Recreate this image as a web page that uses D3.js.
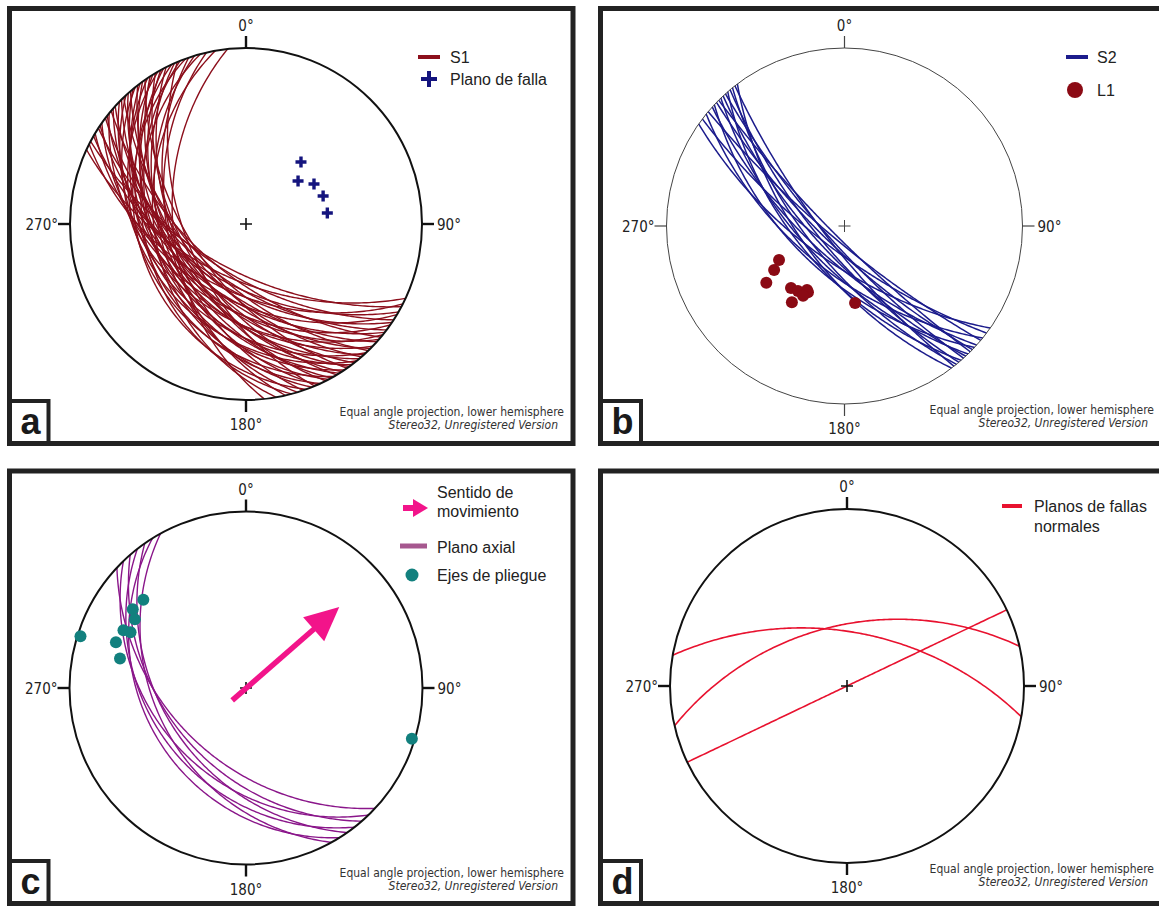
<!DOCTYPE html>
<html>
<head>
<meta charset="utf-8">
<script src="https://cdn.jsdelivr.net/npm/d3@7"></script>
<style>
  body { margin: 0; background: #fff; }
  svg { display: block; }
  text { font-family: "Liberation Sans", Arial, sans-serif; }
  .narrow { font-family: "Liberation Sans Narrow", "Arial Narrow", "DejaVu Sans Condensed", sans-serif; }
</style>
</head>
<body>
<svg id="chart" width="1159" height="906"></svg>
<script>
// ---- Data -------------------------------------------------------------
// Planes are [dip direction, dip]; lines are [trend, plunge], all in degrees.
const s1Planes = [
  [205,55],[207,48],[208,60],[210,52],[211,44],[213,58],[214,50],[215,40],[217,54],
  [218,46],[219,36],[220,58],[221,42],[222,50],[224,38],[225,47],[226,55],[227,33],
  [228,44],[229,52],[230,40],[231,30],[232,48],[233,36],[234,43],[235,55],[236,32],
  [237,45],[238,38],[239,50],[240,28],[241,42],[242,35],[243,47],[245,30],[246,40],
  [247,52],[248,34],[250,27],[251,44],[253,38],[255,30],[257,42],[260,35],[264,45]
];
const fallaPoles = [[41.6,39.6],[50.4,48],[59.5,41.7],[70,40],[82.3,40]];

const s2Planes = [
  [215,66],[217,74],[219,61],[220,80],[222,68],[223,59],[224,76],[225,82],
  [226,64],[227,71],[228,78],[229,61],[230,73],[231,67],[232,77],[233,63]
];
const l1Lineations = [
  [242.6,45],[238,40],[234,33],[220.8,40.6],[215.6,41.6],[210.4,44.8],
  [208.9,44],[210.7,41],[214.6,35],[172.2,42.8]
];

const axialPlanes = [[223,45],[226,36],[229,42],[232,33],[235,40],[238,30],[241,36]];
const foldAxes = [
  [287.4,1],[310.7,15],[304.8,14],[301.7,17],[295.2,15],[295.8,18],
  [289.4,14],[283.2,17.5],[107,1]
];
const movementArrow = [[228,78],[49,20]];   // tail, head

const normalFaultPlanes = [[10,56],[347,52],[334.5,90]];

const tickAzimuths = [0, 90, 180, 270];
const tickLabels = ["0°", "90°", "180°", "270°"];
const footerLines = ["Equal angle projection, lower hemisphere", "Stereo32, Unregistered Version"];
const panelLetters = ["a", "b", "c", "d"];
const legendA = ["S1", "Plano de falla"];
const legendB = ["S2", "L1"];
const legendC = [["Sentido de", "movimiento"], ["Plano axial"], ["Ejes de pliegue"]];
const legendD = [["Planos de fallas", "normales"]];

// ---- Colours ----------------------------------------------------------
const C = {
  frame: "#222",
  s1: "#8c0f1c", falla: "#14147e",
  s2: "#1c1c8c", l1: "#8b0a14",
  axial: "#8a168a", axialKey: "#a6588f", fold: "#12807e", arrow: "#f2148a",
  normal: "#e8122f"
};

// ---- Stereographic (equal angle, lower hemisphere) helpers ------------
const rad = Math.PI / 180;
function lineXY(trend, plunge) {
  const r = Math.tan((90 - plunge) / 2 * rad);
  return [r * Math.sin(trend * rad), r * Math.cos(trend * rad)];
}
function greatCircle(dd, dip) {
  const sAz = (dd - 90) * rad;
  const s = [Math.sin(sAz), Math.cos(sAz), 0];
  const d = [Math.sin(dd * rad) * Math.cos(dip * rad), Math.cos(dd * rad) * Math.cos(dip * rad), -Math.sin(dip * rad)];
  return d3.range(0, 180.01, 1).map(th => {
    const c = Math.cos(th * rad), sn = Math.sin(th * rad);
    const v = [c * s[0] + sn * d[0], c * s[1] + sn * d[1], c * s[2] + sn * d[2]];
    const pl = Math.asin(Math.max(-1, Math.min(1, -v[2]))) / rad;
    const tr = Math.atan2(v[0], v[1]) / rad;
    return lineXY(tr, pl);
  });
}

const svg = d3.select("#chart");
svg.append("rect").attr("width", 1159).attr("height", 906).attr("fill", "#fff");

function stereonet(cx, cy, R, o) {
  const g = svg.append("g");
  const x = d3.scaleLinear().domain([-1, 1]).range([cx - R, cx + R]);
  const y = d3.scaleLinear().domain([-1, 1]).range([cy + R, cy - R]);
  const path = d3.line().x(p => x(p[0])).y(p => y(p[1])).curve(d3.curveLinear);
  const thin = o.thin;
  const ink = thin ? "#444" : "#111";

  // primitive circle
  g.append("circle").attr("cx", cx).attr("cy", cy).attr("r", R)
    .attr("fill", "none").attr("stroke", ink).attr("stroke-width", thin ? 1 : 2);

  // cardinal ticks and labels
  const tl = 12;
  tickAzimuths.forEach((az, i) => {
    const ux = Math.sin(az * rad), uy = -Math.cos(az * rad);
    g.append("line")
      .attr("x1", cx + ux * R).attr("y1", cy + uy * R)
      .attr("x2", cx + ux * (R + tl)).attr("y2", cy + uy * (R + tl))
      .attr("stroke", ink).attr("stroke-width", thin ? 1.2 : 2.4);
    const t = g.append("text").attr("class", "narrow").attr("font-size", 15).attr("fill", "#222")
      .text(tickLabels[i]);
    if (az === 0) t.attr("x", cx).attr("y", cy - R - 17).attr("text-anchor", "middle");
    if (az === 180) t.attr("x", cx).attr("y", cy + R + 30).attr("text-anchor", "middle");
    if (az === 90) t.attr("x", cx + R + 15).attr("y", cy + 6);
    if (az === 270) t.attr("x", cx - R - 12).attr("y", cy + 6).attr("text-anchor", "end");
  });

  // centre cross
  const cs = 6;
  g.append("path").attr("d", `M${cx - cs},${cy}H${cx + cs}M${cx},${cy - cs}V${cy + cs}`)
    .attr("stroke", ink).attr("stroke-width", thin ? 1 : 1.6);

  return { g, x, y, path };
}

function drawPlanes(net, planes, color, width) {
  net.g.insert("g", "circle").selectAll("path").data(planes).join("path")
    .attr("d", p => net.path(greatCircle(p[0], p[1])))
    .attr("fill", "none").attr("stroke", color).attr("stroke-width", width);
}

function frame(x0, y0, x1, y1, letter, boxW) {
  svg.append("rect").attr("x", x0).attr("y", y1 - 42.5).attr("width", boxW).attr("height", 42.5)
    .attr("fill", "#fff").attr("stroke", C.frame).attr("stroke-width", 4);
  svg.append("text").attr("x", x0 + 11).attr("y", y1 - 10).attr("font-size", 36)
    .attr("font-weight", "bold").attr("fill", "#1a1a1a").text(letter);
  svg.append("rect").attr("x", x0).attr("y", y0).attr("width", x1 - x0).attr("height", y1 - y0)
    .attr("fill", "none").attr("stroke", C.frame).attr("stroke-width", 5);
}

function footer(xr, yb) {
  svg.append("text").attr("class", "narrow").attr("x", xr).attr("y", yb).attr("text-anchor", "end")
    .attr("font-size", 12).attr("fill", "#333").text(footerLines[0]);
  svg.append("text").attr("class", "narrow").attr("x", xr - 6).attr("y", yb + 13).attr("text-anchor", "end")
    .attr("font-size", 12).attr("font-style", "italic").attr("fill", "#333").text(footerLines[1]);
}

function arrowShape(g, x1, y1, x2, y2, shaftW, headL, headW, color) {
  const a = Math.atan2(y2 - y1, x2 - x1);
  const ux = Math.cos(a), uy = Math.sin(a), px = -uy, py = ux;
  const bx = x2 - ux * headL, by = y2 - uy * headL;
  g.append("line").attr("x1", x1).attr("y1", y1).attr("x2", bx + ux * 2).attr("y2", by + uy * 2)
    .attr("stroke", color).attr("stroke-width", shaftW);
  g.append("path")
    .attr("d", `M${x2},${y2}L${bx + px * headW},${by + py * headW}L${bx - px * headW},${by - py * headW}Z`)
    .attr("fill", color);
}

// ---- Panel a -----------------------------------------------------------
const na = stereonet(246, 224, 176, {});
drawPlanes(na, s1Planes, C.s1, 1.4);
na.g.selectAll(".falla").data(fallaPoles).join("path").attr("class", "falla")
  .attr("d", d => { const p = lineXY(d[0], d[1]); const X = na.x(p[0]), Y = na.y(p[1]);
    return `M${X - 5.5},${Y}H${X + 5.5}M${X},${Y - 5.5}V${Y + 5.5}`; })
  .attr("stroke", C.falla).attr("stroke-width", 3.4);
frame(9.5, 8.5, 573, 443.5, panelLetters[0], 39);
footer(564, 416);
svg.append("line").attr("x1", 418).attr("x2", 440).attr("y1", 57).attr("y2", 57)
  .attr("stroke", C.s1).attr("stroke-width", 4);
svg.append("text").attr("x", 450).attr("y", 63).attr("font-size", 16).attr("fill", "#222").text(legendA[0]);
svg.append("path").attr("d", "M421,79H437M429,71V87").attr("stroke", C.falla).attr("stroke-width", 4);
svg.append("text").attr("x", 450).attr("y", 85).attr("font-size", 16).attr("fill", "#222").text(legendA[1]);

// ---- Panel b -----------------------------------------------------------
const nb = stereonet(844.5, 226, 178, { thin: true });
drawPlanes(nb, s2Planes, C.s2, 1.5);
nb.g.selectAll(".l1").data(l1Lineations).join("circle").attr("class", "l1")
  .attr("cx", d => nb.x(lineXY(d[0], d[1])[0])).attr("cy", d => nb.y(lineXY(d[0], d[1])[1]))
  .attr("r", 6).attr("fill", C.l1);
frame(600.5, 8.5, 1200, 443.5, panelLetters[1], 40.5);
footer(1154, 414);
svg.append("line").attr("x1", 1066).attr("x2", 1088).attr("y1", 57).attr("y2", 57)
  .attr("stroke", C.s2).attr("stroke-width", 4);
svg.append("text").attr("x", 1097).attr("y", 63).attr("font-size", 16).attr("fill", "#222").text(legendB[0]);
svg.append("circle").attr("cx", 1075).attr("cy", 90).attr("r", 8).attr("fill", C.l1);
svg.append("text").attr("x", 1097).attr("y", 96).attr("font-size", 16).attr("fill", "#222").text(legendB[1]);

// ---- Panel c -----------------------------------------------------------
const nc = stereonet(246, 688, 176.5, {});
drawPlanes(nc, axialPlanes, C.axial, 1.4);
nc.g.selectAll(".fold").data(foldAxes).join("circle").attr("class", "fold")
  .attr("cx", d => nc.x(lineXY(d[0], d[1])[0])).attr("cy", d => nc.y(lineXY(d[0], d[1])[1]))
  .attr("r", 6).attr("fill", C.fold);
{
  const t = lineXY(...movementArrow[0]), h = lineXY(...movementArrow[1]);
  arrowShape(nc.g, nc.x(t[0]), nc.y(t[1]), nc.x(h[0]), nc.y(h[1]), 5.5, 34, 16, C.arrow);
}
frame(9.5, 471, 573, 903.5, panelLetters[2], 39);
footer(564, 877);
arrowShape(svg, 403, 508, 428, 508, 6, 15, 9, C.arrow);
svg.append("text").attr("x", 437).attr("y", 498).attr("font-size", 16).attr("fill", "#222").text(legendC[0][0]);
svg.append("text").attr("x", 437).attr("y", 517).attr("font-size", 16).attr("fill", "#222").text(legendC[0][1]);
svg.append("line").attr("x1", 400).attr("x2", 427).attr("y1", 546).attr("y2", 546)
  .attr("stroke", C.axialKey).attr("stroke-width", 5);
svg.append("text").attr("x", 437).attr("y", 553).attr("font-size", 16).attr("fill", "#222").text(legendC[1][0]);
svg.append("circle").attr("cx", 412).attr("cy", 575).attr("r", 6.5).attr("fill", C.fold);
svg.append("text").attr("x", 437).attr("y", 581).attr("font-size", 16).attr("fill", "#222").text(legendC[2][0]);

// ---- Panel d -----------------------------------------------------------
const nd = stereonet(847, 686, 177, {});
drawPlanes(nd, normalFaultPlanes, C.normal, 1.6);
frame(600.5, 471, 1200, 903.5, panelLetters[3], 40.5);
footer(1154, 873);
svg.append("line").attr("x1", 1002).attr("x2", 1022).attr("y1", 506).attr("y2", 506)
  .attr("stroke", C.normal).attr("stroke-width", 4);
svg.append("text").attr("x", 1034).attr("y", 512).attr("font-size", 16).attr("fill", "#222").text(legendD[0][0]);
svg.append("text").attr("x", 1034).attr("y", 532).attr("font-size", 16).attr("fill", "#222").text(legendD[0][1]);
</script>
</body>
</html>
